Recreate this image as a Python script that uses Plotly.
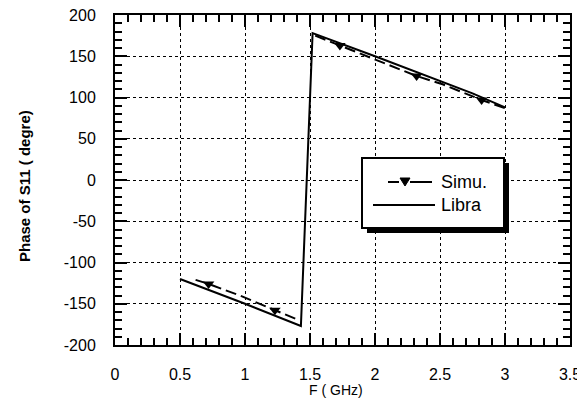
import plotly.graph_objects as go

# Libra (solid)
libra_x = [0.5, 1.0, 1.43, 1.52, 2.0, 2.5, 2.75, 3.0]
libra_y = [-120, -150, -177, 178, 150, 120, 105, 88]

# Simu. (dashed line; None = break at the phase wrap)
simu_x = [0.62, 0.72, 0.96, 1.23, 1.40, None, 1.54, 1.73, 2.0, 2.32, 2.52, 2.82, 3.0]
simu_y = [-121, -126, -140, -158, -169, None, 175, 163, 146, 126, 116, 97, 87]

# Simu. markers
mark_x = [0.72, 1.23, 1.73, 2.32, 2.82]
mark_y = [-126, -158, 163, 126, 97]

x_ticks = [0, 0.5, 1, 1.5, 2, 2.5, 3, 3.5]
x_labels = ["0", "0.5", "1", "1.5", "2", "2.5", "3", "3.5"]
y_ticks = [-200, -150, -100, -50, 0, 50, 100, 150, 200]
y_labels = ["-200", "-150", "-100", "-50", "0", "50", "100", "150", "200"]

legend_names = ["Simu.", "Libra"]

FONT = "Arial, Liberation Sans, sans-serif"

# page body has an 8px margin: the figure is drawn 8px in from the window corner
OFF = 8
W, H = 585 - OFF, 399 - OFF
ML, MT = 115 - OFF, 15 - OFF
PW, PH = 455, 330
MR = W - ML - PW
MB = H - MT - PH


def px(x):
    """window pixel x -> paper x"""
    return (x - OFF - ML) / PW


def py(y):
    """window pixel y -> paper y"""
    return (MT + PH - (y - OFF)) / PH


fig = go.Figure()
fig.add_trace(go.Scatter(x=simu_x, y=simu_y, mode="lines", name="Simu.",
                         line=dict(color="black", width=2, dash="11px,5px"),
                         showlegend=False, connectgaps=False))
fig.add_trace(go.Scatter(x=mark_x, y=mark_y, mode="markers", name="Simu.",
                         marker=dict(symbol="triangle-down", size=10, color="black"),
                         showlegend=False))
fig.add_trace(go.Scatter(x=libra_x, y=libra_y, mode="lines", name="Libra",
                         line=dict(color="black", width=2), showlegend=False))

axis_common = dict(
    showline=True, linecolor="black", linewidth=2, mirror="allticks",
    ticks="inside", ticklen=12, tickwidth=2, tickcolor="black",
    showgrid=True, gridcolor="black", gridwidth=1, griddash="dot",
    zeroline=False, automargin=False, ticklabeloverflow="allow",
    tickfont=dict(family=FONT, size=16, color="black"),
)

fig.update_xaxes(range=[0, 3.5], tickvals=x_ticks, ticktext=x_labels,
                 ticklabelstandoff=14,
                 minor=dict(ticks="inside", ticklen=7, dtick=0.1, tickwidth=1.5,
                            tickcolor="black", showgrid=False),
                 **axis_common)
fig.update_yaxes(range=[-200, 200], tickvals=y_ticks, ticktext=y_labels,
                 ticklabelstandoff=14,
                 minor=dict(ticks="inside", ticklen=7, dtick=10, tickwidth=1.5,
                            tickcolor="black", showgrid=False),
                 **axis_common)

shapes = []
annotations = []

# axis titles
annotations.append(dict(text="F ( GHz)", xref="paper", yref="paper",
                        x=px(336), y=py(390), xanchor="center", yanchor="middle",
                        showarrow=False, font=dict(family=FONT, size=14, color="black")))
annotations.append(dict(text="<b>Phase of S11 ( degre)</b>", xref="paper", yref="paper",
                        x=px(24), y=py(186), xanchor="center", yanchor="middle",
                        textangle=-90, showarrow=False,
                        font=dict(family=FONT, size=15, color="black")))

# legend box with drop shadow
shapes.append(dict(type="rect", xref="paper", yref="paper",
                   x0=px(367), x1=px(509), y0=py(233), y1=py(163),
                   fillcolor="black", line=dict(width=0), layer="above"))
shapes.append(dict(type="rect", xref="paper", yref="paper",
                   x0=px(362), x1=px(504), y0=py(228), y1=py(158),
                   fillcolor="white", line=dict(color="black", width=2), layer="above"))
# Simu. entry
shapes.append(dict(type="line", xref="paper", yref="paper",
                   x0=px(388), x1=px(399), y0=py(182), y1=py(182),
                   line=dict(color="black", width=2), layer="above"))
shapes.append(dict(type="line", xref="paper", yref="paper",
                   x0=px(410), x1=px(432), y0=py(182), y1=py(182),
                   line=dict(color="black", width=2), layer="above"))
shapes.append(dict(type="path", xref="paper", yref="paper",
                   path=f"M{px(400)},{py(178)} L{px(410)},{py(178)} L{px(405)},{py(186)} Z",
                   fillcolor="black", line=dict(color="black", width=1), layer="above"))
# Libra entry
shapes.append(dict(type="line", xref="paper", yref="paper",
                   x0=px(373), x1=px(435), y0=py(205), y1=py(205),
                   line=dict(color="black", width=2), layer="above"))
for name, yy in zip(legend_names, [182, 205]):
    annotations.append(dict(text=name, xref="paper", yref="paper",
                            x=px(439), y=py(yy), xanchor="left", yanchor="middle",
                            showarrow=False,
                            font=dict(family=FONT, size=18, color="black")))

fig.update_layout(
    width=W, height=H,
    margin=dict(l=ML, r=MR, t=MT, b=MB),
    paper_bgcolor="white", plot_bgcolor="white",
    showlegend=False,
    shapes=shapes, annotations=annotations,
)

fig.write_html("out.html")
